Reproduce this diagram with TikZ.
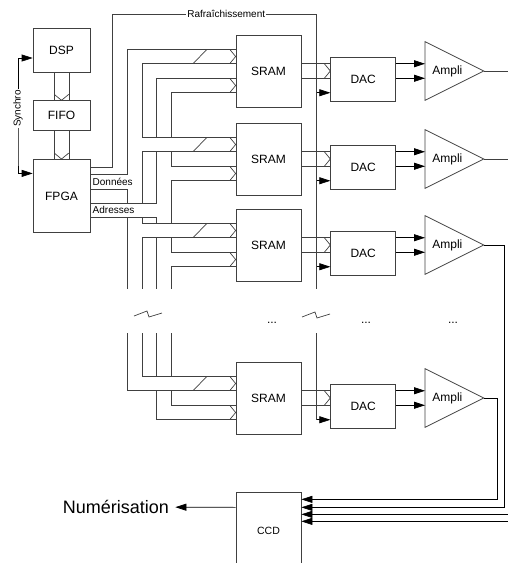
\documentclass[tikz,border=0pt]{standalone}
\usepackage{fontspec}
\setmainfont{Liberation Sans}
\usetikzlibrary{arrows.meta,positioning}
\definecolor{Wire}{HTML}{404040}
\newcommand{\boxfont}{\fontsize{12}{14}\selectfont}
\newcommand{\tagfont}{\fontsize{10}{12}\selectfont}

\tikzset{
  chev/.pic={\draw (-6,-7.25) -- (0,0) -- (-6,7.25);},
  brk/.pic={\draw (0,0) -- (13,-5) -- (15,1) -- (28,-3);}
}

\begin{document}
\begin{tikzpicture}[
    x=1pt, y=-1pt, line width=0.7pt, color=Wire, text=black,
    blk/.style={draw=Wire, minimum width=57pt, inner sep=0pt, font=\boxfont},
    sram/.style={blk, minimum width=65pt, minimum height=72pt},
    dac/.style={blk, minimum width=65pt, minimum height=44pt},
    amp/.style={minimum width=58pt, minimum height=58pt, inner sep=0pt,
                text width=44pt, align=left, font=\boxfont},
    tag/.style={font=\tagfont, inner sep=1pt},
    arr/.style={draw=black, -{Triangle[length=11pt,width=7pt]}}
  ]
  \useasboundingbox (0,0) rectangle (508,563);
  \clip (0,0) rectangle (508,563);

  % columns of the buses
  \coordinate (sy) at (18,0);
  \coordinate (rt) at (112,14);
  \coordinate (dl) at (127,0);
  \coordinate (dr) at (142,0);
  \coordinate (al) at (156,0);
  \coordinate (ar) at (171,0);
  \coordinate (sl) at (200,0);
  \coordinate (rf) at (316,0);
  \coordinate (o3) at (504,0);
  \coordinate (o4) at (497,0);
  \coordinate (rim) at (512,0);
  \coordinate (cut) at (0,289);
  \coordinate (resume) at (0,333);

  % control chain
  \node[blk, minimum height=44pt] (dsp) at (61.5,50) {DSP};
  \node[blk, minimum height=30pt, below=28pt of dsp] (fifo) {FIFO};
  \node[blk, minimum height=73pt, below=28pt of fifo] (fpga) {FPGA};

  \draw ([xshift=-7.5pt]dsp.south) -- ([xshift=-7.5pt]fifo.north);
  \draw ([xshift=7.5pt]dsp.south) -- ([xshift=7.5pt]fifo.north);
  \pic[rotate=-90] at (fifo.north) {chev};
  \draw ([xshift=-7.5pt]fifo.south) -- ([xshift=-7.5pt]fpga.north);
  \draw ([xshift=7.5pt]fifo.south) -- ([xshift=7.5pt]fpga.north);
  \pic[rotate=-90] at (fpga.north) {chev};

  \draw[arr, {Triangle[length=11pt,width=7pt]}-{Triangle[length=11pt,width=7pt]}]
    ([yshift=-8pt]dsp.west) -| node[pos=.75, tag, fill=white, rotate=90] {Synchro}
    (sy |- fpga.north) |- ([yshift=22.5pt]fpga.west);

  \coordinate (f0) at ([yshift=-8pt]fpga.north east);
  \coordinate (f1) at ([yshift=-15pt]fpga.north east);
  \coordinate (f2) at ([yshift=-30pt]fpga.north east);
  \coordinate (f3) at ([yshift=-44pt]fpga.north east);
  \coordinate (f4) at ([yshift=-58pt]fpga.north east);
  \node[tag, anchor=west] (don) at ([yshift=-22.5pt, xshift=1pt]fpga.north east) {Données};
  \node[tag, anchor=west] (adr) at ([yshift=-51pt, xshift=1pt]fpga.north east) {Adresses};

  % one row per memory
  \foreach \k/\yc in {1/71,2/159,3/245,4/398}{
    \node[sram] (sram\k) at (268.5,\yc) {SRAM};
    \node[dac, right=29pt of sram\k, yshift=-8pt] (dac\k) {DAC};
    \node[amp, right=29pt of dac\k, yshift=8pt] (amp\k) {Ampli};
    \draw (amp\k.north west) -- (amp\k.east) -- (amp\k.south west) -- cycle;
    \coordinate (a\k) at ([yshift=21.75pt]sram\k.west);
    \coordinate (b\k) at ([yshift=7.25pt]sram\k.west);
    \coordinate (c\k) at ([yshift=-7.25pt]sram\k.west);
    \coordinate (d\k) at ([yshift=-21.75pt]sram\k.west);
    \pic at ([yshift=14.5pt]sram\k.west) {chev};
    \pic at ([yshift=-14.5pt]sram\k.west) {chev};
    \draw ([xshift=-7pt]sl |- b\k) -- ([xshift=7pt]sl |- a\k);
    \draw (sram\k.east |- b\k) -- (dac\k.west |- b\k);
    \draw (sram\k.east |- c\k) -- (dac\k.west |- c\k);
    \pic at (dac\k.west |- sram\k.west) {chev};
    \draw[arr] (dac\k.east |- b\k) -- (amp\k.west |- b\k);
    \draw[arr] (dac\k.east |- c\k) -- (amp\k.west |- c\k);
    \draw[arr] (rf |- d\k) -- (dac\k.west |- d\k);
  }

  % data bus
  \draw (f1) -| (dl |- a1) -- (a1);
  \draw (f2) -| (dl |- f3);
  \draw (dl |- f4) -- (dl |- cut);
  \draw (dl |- resume) |- (b4);
  \draw (b1) -| (dr |- a2) -- (a2);
  \draw (b2) -| (dr |- f3);
  \draw (dr |- f4) |- (a3);
  \draw (b3) -| (dr |- cut);
  \draw (dr |- resume) |- (a4);

  % address bus
  \draw (c1) -| (al |- a2);
  \draw (f3) -| (al |- b2);
  \draw (f4) -| (al |- a3);
  \draw (al |- b3) -- (al |- cut);
  \draw (al |- resume) -- (al |- a4);
  \draw (al |- b4) |- (d4);
  \draw (d1) -| (ar |- a2);
  \draw (ar |- b2) |- (c2);
  \draw (d2) -| (ar |- a3);
  \draw (ar |- b3) |- (c3);
  \draw (d3) -| (ar |- cut);
  \draw (ar |- resume) -- (ar |- a4);
  \draw (ar |- b4) |- (c4);

  % refresh
  \draw (f0) -| (rt) -- node[pos=.56, tag, fill=white] {Rafraîchissement} (rf |- rt) -- (rf |- cut);
  \draw (rf |- resume) -- (rf |- d4);

  \pic at (134,316) {brk};
  \pic at (302,317) {brk};
  \node[font=\boxfont] (dots1) at (272,323) {...};
  \node[font=\boxfont] (dots2) at (366,323) {...};
  \node[font=\boxfont] (dots3) at (453,323) {...};

  % camera
  \node[blk, minimum width=65pt, minimum height=76pt, font=\fontsize{10.5}{12}\selectfont,
        below=58pt of sram4] (ccd) {CCD};
  \coordinate (i1) at ([yshift=-7pt]ccd.north east);
  \coordinate (i2) at ([yshift=-15pt]ccd.north east);
  \coordinate (i3) at ([yshift=-22pt]ccd.north east);
  \coordinate (i4) at ([yshift=-29pt]ccd.north east);
  \draw (amp1.east) -- (amp1.east -| rim);
  \draw (amp2.east) -- (amp2.east -| rim);
  \draw[arr] (amp4.east) -| (o4 |- i1) -- (i1);
  \draw[arr] (amp3.east) -| (o3 |- i2) -- (i2);
  \draw[arr] (rim |- i3) -- (i3);
  \draw[arr] (rim |- i4) -- (i4);

  \node[font=\fontsize{18}{21}\selectfont, inner xsep=6pt] (num) at (116,507) {Numérisation};
  \draw[arr] (ccd.west |- i2) -- (num);
\end{tikzpicture}
\end{document}
